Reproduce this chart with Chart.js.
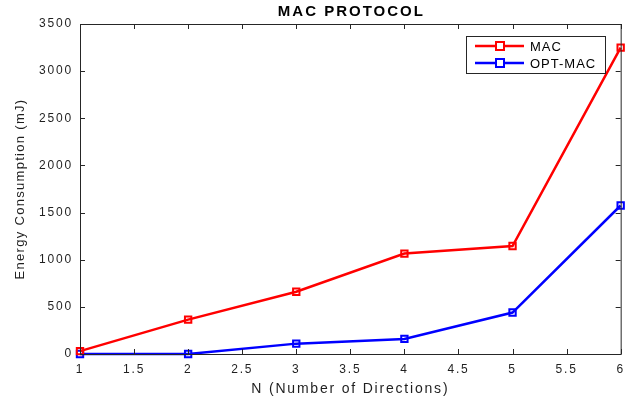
<!DOCTYPE html>
<html>
<head>
<meta charset="utf-8">
<script src="https://cdn.jsdelivr.net/npm/chart.js@4"></script>
<style>
  html, body { margin: 0; padding: 0; background: #fff; }
  #wrap { width: 632px; height: 401px; }
</style>
</head>
<body>
<div id="wrap"><canvas id="macChart" width="632" height="401"></canvas></div>
<script>
// data
const directions = [1, 2, 3, 4, 5, 6];
const macEnergy = [30, 365, 660, 1065, 1145, 3250];
const optMacEnergy = [0, 0, 110, 160, 440, 1575];
const xTicks = [1, 1.5, 2, 2.5, 3, 3.5, 4, 4.5, 5, 5.5, 6];
const yTicks = [0, 500, 1000, 1500, 2000, 2500, 3000, 3500];

const FONT = "'Liberation Sans', Arial, Helvetica, sans-serif";
const AXIS_COLOR = '#1f1f1f';

// MATLAB text renders wider than plain Arial
const wideText = {
  id: 'wideText',
  beforeDraw(chart) { chart.ctx.letterSpacing = '1.8px'; }
};

// box, inward ticks, titles and legend
const matlabFrame = {
  id: 'matlabFrame',
  afterDraw(chart) {
    const c = chart.ctx;
    const a = chart.chartArea;
    const xs = chart.scales.x, ys = chart.scales.y;
    c.save();
    c.strokeStyle = '#262626';
    c.lineWidth = 1;
    c.strokeRect(a.left + 0.5, a.top + 0.5, a.right - a.left, a.bottom - a.top);
    c.beginPath();
    xTicks.forEach(v => {
      const px = Math.round(xs.getPixelForValue(v)) + 0.5;
      c.moveTo(px, a.bottom); c.lineTo(px, a.bottom - 5);
      c.moveTo(px, a.top); c.lineTo(px, a.top + 5);
    });
    yTicks.forEach(v => {
      const py = Math.round(ys.getPixelForValue(v)) + 0.5;
      c.moveTo(a.left, py); c.lineTo(a.left + 5, py);
      c.moveTo(a.right, py); c.lineTo(a.right - 5, py);
    });
    c.stroke();

    // title
    c.letterSpacing = '2px';
    c.fillStyle = '#000';
    c.font = 'bold 15px ' + FONT;
    c.textAlign = 'center';
    c.textBaseline = 'middle';
    c.fillText('MAC PROTOCOL', (a.left + a.right) / 2 + 1, 12);

    // y axis title
    c.save();
    c.letterSpacing = '1.3px';
    c.fillStyle = AXIS_COLOR;
    c.font = '13px ' + FONT;
    c.translate(20, 189);
    c.rotate(-Math.PI / 2);
    c.fillText('Energy Consumption (mJ)', 0, 0);
    c.restore();

    // legend
    c.letterSpacing = '1px';
    const lx = 466, ly = 36, lw = 139, lh = 37;
    c.fillStyle = '#fff';
    c.fillRect(lx, ly, lw, lh);
    c.strokeStyle = '#262626';
    c.lineWidth = 1;
    c.strokeRect(lx + 0.5, ly + 0.5, lw, lh);
    const items = chart.data.datasets.map((d, i) => ({ label: d.label, color: d.borderColor, y: i === 0 ? 46 : 63 }));
    items.forEach(it => {
      c.strokeStyle = it.color;
      c.lineWidth = 2.5;
      c.beginPath(); c.moveTo(475, it.y); c.lineTo(524, it.y); c.stroke();
      c.lineWidth = 2;
      c.fillStyle = '#fff';
      c.fillRect(496, it.y - 4, 8, 8);
      c.strokeRect(496, it.y - 4, 8, 8);
      c.fillStyle = '#000';
      c.font = '13px ' + FONT;
      c.textAlign = 'left';
      c.fillText(it.label, 530, it.y + 1);
    });
    c.restore();
  }
};

const ctx = document.getElementById('macChart').getContext('2d');
new Chart(ctx, {
  type: 'line',
  data: {
    datasets: [
      {
        label: 'MAC',
        data: directions.map((x, i) => ({ x: x, y: macEnergy[i] })),
        borderColor: '#ff0000',
        backgroundColor: '#ffffff',
        borderWidth: 2.5,
        pointStyle: 'rect',
        pointRadius: 4.5,
        pointBorderWidth: 2,
        pointBackgroundColor: 'rgba(255,255,255,0)',
        tension: 0
      },
      {
        label: 'OPT-MAC',
        data: directions.map((x, i) => ({ x: x, y: optMacEnergy[i] })),
        borderColor: '#0000ff',
        backgroundColor: '#ffffff',
        borderWidth: 2.5,
        pointStyle: 'rect',
        pointRadius: 4.5,
        pointBorderWidth: 2,
        pointBackgroundColor: 'rgba(255,255,255,0)',
        tension: 0
      }
    ]
  },
  options: {
    responsive: false,
    animation: false,
    clip: false,
    layout: { padding: { left: 0, right: 11, top: 24, bottom: 0 } },
    plugins: {
      legend: { display: false },
      title: { display: false },
      tooltip: { enabled: false }
    },
    scales: {
      x: {
        type: 'linear',
        min: 1,
        max: 6,
        afterBuildTicks(scale) { scale.ticks = xTicks.map(v => ({ value: v })); },
        afterFit(scale) { scale.height = 47; },
        grid: { display: false, drawTicks: false },
        border: { display: false },
        ticks: {
          color: AXIS_COLOR,
          font: { family: FONT, size: 12 },
          padding: 8,
          maxRotation: 0,
          callback: v => String(v)
        },
        title: {
          display: true,
          text: 'N (Number of Directions)',
          color: AXIS_COLOR,
          font: { family: FONT, size: 14 },
          padding: { top: 0, bottom: 3 }
        }
      },
      y: {
        min: 0,
        max: 3500,
        afterBuildTicks(scale) { scale.ticks = yTicks.map(v => ({ value: v })); },
        afterFit(scale) { scale.width = 80; },
        grid: { display: false, drawTicks: false },
        border: { display: false },
        ticks: {
          color: AXIS_COLOR,
          font: { family: FONT, size: 12 },
          padding: 7,
          callback: v => String(v)
        },
        title: { display: false }
      }
    }
  },
  plugins: [wideText, matlabFrame]
});
</script>
</body>
</html>
